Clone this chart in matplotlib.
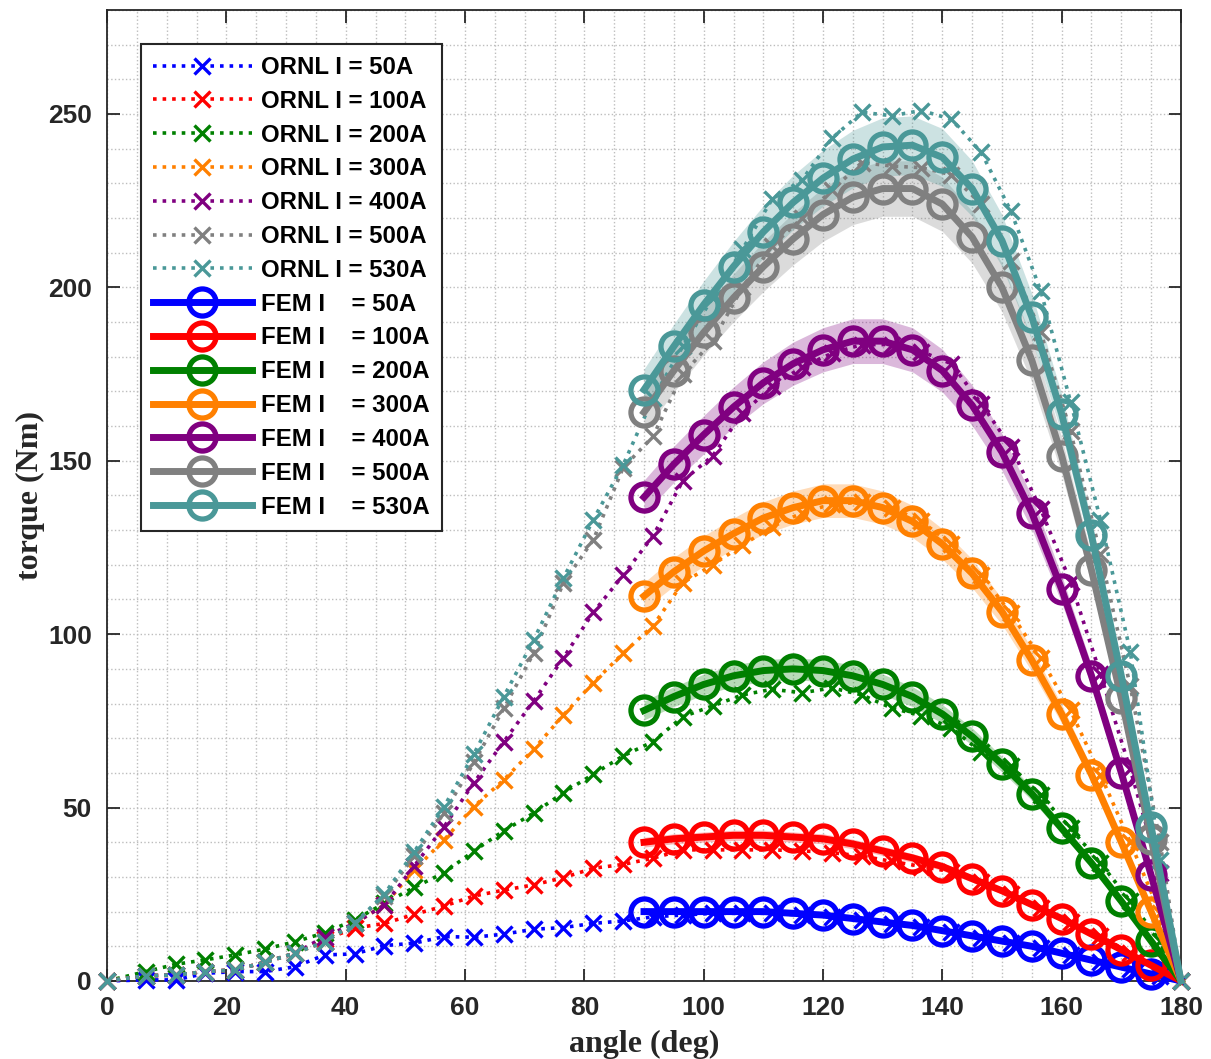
import matplotlib.pyplot as plt
import numpy as np
from matplotlib.ticker import MultipleLocator

# measured (ORNL) torque, angle in deg
ornl_angle = [0, 6.5, 11.5, 16.5, 21.5, 26.5, 31.5, 36.5, 41.5, 46.5, 51.5, 56.5,
              61.5, 66.5, 71.5, 76.5, 81.5, 86.5, 91.5, 96.5, 101.5, 106.5, 111.5,
              116.5, 121.5, 126.5, 131.5, 136.5, 141.5, 146.5, 151.5, 156.5, 161.5,
              166.5, 171.5, 176.5, 180]
ornl_50 = [0, 0.3, 0.3, 2.2, 2.7, 2.7, 4.1, 7.5, 7.8, 10.2, 10.9, 12.8, 12.6, 13.5,
           14.9, 15.4, 16.6, 17.3, 18.5, 19, 19.5, 19.5, 19.5, 19, 18.5, 17.5, 16.5,
           15.5, 14, 12.5, 11, 9.5, 7.5, 5.5, 3.5, 1.5, 0]
ornl_100 = [0, 1.5, 1.7, 2.7, 3.2, 5.4, 8.0, 12, 15.2, 16.6, 19.2, 21.6, 24.5, 26.2,
            27.7, 29.8, 32.5, 33.6, 35.4, 37.8, 37.8, 37.8, 37.8, 37.5, 37, 36, 34.5,
            33, 31.5, 28.5, 25, 21, 17, 13, 8, 3.5, 0]
ornl_200 = [0, 2.7, 4.8, 6.1, 7.5, 9.2, 11.3, 13.9, 17.6, 22.4, 27.0, 31.2, 37.5, 43.3,
            48.4, 54.3, 59.6, 64.9, 69.0, 76.2, 79.3, 82.5, 84.1, 83.1, 84.5, 82.5, 78.7,
            76.5, 73, 66, 62, 53.5, 44, 34, 23, 11.5, 0]
ornl_300 = [0, 1.5, 1.7, 2.7, 3.2, 5.4, 8.0, 11.3, 16.6, 21.9, 32, 40.7, 50.3, 58,
            66.8, 76.7, 86.0, 94.5, 102.4, 114.8, 120, 125.7, 131, 135, 137.5, 138, 136.5,
            132.5, 126, 117, 106, 93, 78, 59.5, 40, 19.5, 0]
ornl_400 = [0, 1.5, 1.7, 2.7, 3.2, 5.4, 8.0, 12.8, 16.6, 21.9, 33.2, 44.5, 57.2, 69,
            80.7, 93.2, 106.3, 117, 128.3, 144.2, 151.4, 163.7, 171.5, 177, 181, 183.5,
            183.5, 181.5, 178, 166.5, 154, 136, 115, 88.5, 61, 31, 0]
ornl_500 = [0, 1.5, 1.7, 2.7, 3.2, 5.4, 8.0, 11.3, 16.6, 24.5, 36, 48.5, 63, 78.6,
            94.5, 114.8, 127.2, 148, 157, 175, 184.5, 200, 212, 220, 228, 236, 235,
            234.5, 232.5, 224, 207.5, 187, 158.5, 123, 85, 40, 0]
ornl_530 = [0, 1.5, 1.7, 2.7, 3.2, 5.4, 8.0, 11.3, 16.6, 25.1, 37.3, 50.3, 65.5, 82,
            98.3, 116.2, 133, 148.8, 168, 183, 197, 211, 225.5, 231, 243, 250.5, 249.5,
            251, 248.5, 239, 222, 199, 167, 133, 95, 35, 0]

# simulated (FEM) torque
fem_angle = [90, 95, 100, 105, 110, 115, 120, 125, 130, 135, 140, 145, 150, 155,
             160, 165, 170, 175, 180]
fem_50 = [20, 20, 20, 20, 20, 19.5, 19, 18, 17, 16, 14.5, 13, 11.5, 10, 8, 6, 4, 2, 0]
fem_100 = [40, 41, 41.5, 42, 42, 41.5, 41, 39.5, 37.5, 35.5, 33, 29.5, 26, 22, 18,
           13.5, 9, 4.5, 0]
fem_200 = [78, 82, 85.5, 88, 89.5, 90, 89.5, 88, 85.5, 82, 77, 70.5, 62.5, 54, 44,
           34, 23, 11.5, 0]
fem_300 = [111, 118, 124, 129, 133.5, 136.5, 138.5, 138.5, 136.5, 132.5, 126, 117.5,
           106.5, 92.5, 77, 59.5, 40, 20, 0]
fem_400 = [139.5, 149, 157.5, 165.5, 172.5, 178, 182, 184.5, 184.5, 182, 176, 166,
           152.5, 135, 113, 88, 60, 30.5, 0]
fem_500 = [164, 176, 187, 197, 206, 214, 221, 226, 228.5, 228.5, 224, 214.5, 200,
           179, 151.5, 118.5, 81.5, 41, 0]
fem_530 = [170.5, 183, 195, 206, 216, 224.5, 231.5, 237, 240.5, 241, 237.5, 228.5,
           213.5, 191.5, 163.5, 128.5, 88, 44.5, 0]

currents = [50, 100, 200, 300, 400, 500, 530]
ornl_all = [ornl_50, ornl_100, ornl_200, ornl_300, ornl_400, ornl_500, ornl_530]
fem_all = [fem_50, fem_100, fem_200, fem_300, fem_400, fem_500, fem_530]
band_frac = 0.035  # relative half width of the FEM band

colors = ['#0000ff', '#ff0000', '#008000', '#ff8000', '#800080', '#808080', '#4a9898']

sans = ['Liberation Sans', 'DejaVu Sans']
serif = ['Liberation Serif', 'DejaVu Serif']

fig = plt.figure(figsize=(12.11, 10.59), dpi=100)
ax = fig.add_axes([0.0884, 0.0737, 0.8868, 0.9169])

for cur, vals, col in zip(currents, ornl_all, colors):
    ax.plot(ornl_angle, vals, linestyle=':', linewidth=2.6, color=col,
            marker='x', markersize=11.5, markeredgewidth=2.4,
            label=f'ORNL I = {cur}A', clip_on=False, zorder=3)

for cur, vals, col in zip(currents, fem_all, colors):
    v = np.array(vals)
    ax.fill_between(fem_angle, v * (1 - band_frac), v * (1 + band_frac),
                    color=col, alpha=0.28, linewidth=0, zorder=2)
    ax.plot(fem_angle, vals, linestyle='-', linewidth=5, color=col,
            marker='o', markersize=19.5, markeredgewidth=3.8, markerfacecolor='none',
            markevery=slice(0, len(vals) - 1),
            label=f'FEM I    = {cur}A', clip_on=False, zorder=4)

ax.set_xlim(0, 180)
ax.set_ylim(0, 280)
ax.xaxis.set_major_locator(MultipleLocator(20))
ax.xaxis.set_minor_locator(MultipleLocator(5))
ax.yaxis.set_major_locator(MultipleLocator(50))
ax.yaxis.set_minor_locator(MultipleLocator(10))

ax.grid(True, which='both', linestyle=':', linewidth=1.0, color='#bdbdbd')
ax.set_axisbelow(True)
ax.tick_params(which='major', direction='in', length=9, width=1.3,
               top=True, right=True, colors='#262626', labelsize=19, pad=11)
ax.tick_params(which='minor', length=0)
for lab in ax.get_xticklabels() + ax.get_yticklabels():
    lab.set_family(sans)
    lab.set_fontweight('bold')
for sp in ax.spines.values():
    sp.set_color('#262626')
    sp.set_linewidth(1.3)

ax.set_xlabel('angle (deg)', family=serif, fontweight='bold', fontsize=23,
              color='#262626', labelpad=7)
ax.set_ylabel('torque (Nm)', family=serif, fontweight='bold', fontsize=23,
              color='#262626', labelpad=2)

leg = ax.legend(loc='upper left', bbox_to_anchor=(0.0317, 0.965), borderaxespad=0,
                prop={'family': sans, 'weight': 'bold', 'size': 17.3},
                handlelength=4.1, labelspacing=0.45, handletextpad=0.4,
                borderpad=0.5, fancybox=False, framealpha=1)
leg.get_frame().set_edgecolor('#262626')
leg.get_frame().set_linewidth(1.5)

fig.savefig('out.png', dpi=100)
